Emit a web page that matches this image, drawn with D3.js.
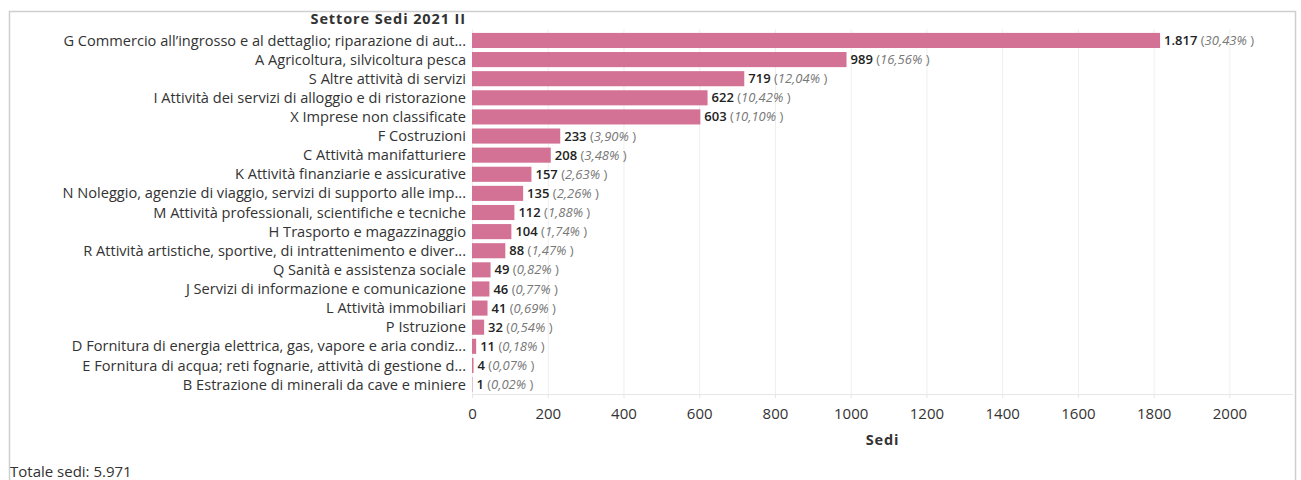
<!DOCTYPE html>
<html>
<head>
<meta charset="utf-8">
<script src="https://cdn.jsdelivr.net/npm/d3@7"></script>
<style>
    body { margin: 0; background: #fff; }
    text { font-family: "Open Sans", Lato, sans-serif; fill: #333; }
    .grid line { stroke: #efefef; }
    .grid path { stroke: none; }
</style>
</head>
<body>
<div id="chart"></div>
<script>
// categories (already sorted as in the picture)
const settori = [
    "G Commercio all’ingrosso e al dettaglio; riparazione di aut...",
    "A Agricoltura, silvicoltura pesca",
    "S Altre attività di servizi",
    "I Attività dei servizi di alloggio e di ristorazione",
    "X Imprese non classificate",
    "F Costruzioni",
    "C Attività manifatturiere",
    "K Attività finanziarie e assicurative",
    "N Noleggio, agenzie di viaggio, servizi di supporto alle imp...",
    "M Attività professionali, scientifiche e tecniche",
    "H Trasporto e magazzinaggio",
    "R Attività artistiche, sportive, di intrattenimento e diver...",
    "Q Sanità e assistenza sociale",
    "J Servizi di informazione e comunicazione",
    "L Attività immobiliari",
    "P Istruzione",
    "D Fornitura di energia elettrica, gas, vapore e aria condiz...",
    "E Fornitura di acqua; reti fognarie, attività di gestione d...",
    "B Estrazione di minerali da cave e miniere"
];
const sedi = [1817, 989, 719, 622, 603, 233, 208, 157, 135, 112, 104, 88, 49, 46, 41, 32, 11, 4, 1];
const percentuali = ["30,43%", "16,56%", "12,04%", "10,42%", "10,10%", "3,90%", "3,48%", "2,63%", "2,26%",
    "1,88%", "1,74%", "1,47%", "0,82%", "0,77%", "0,69%", "0,54%", "0,18%", "0,07%", "0,02%"];
const xTicks = [0, 200, 400, 600, 800, 1000, 1200, 1400, 1600, 1800, 2000];
const totale = "5.971";

const W = 1301, H = 480;
var margin = { top: 31, right: 8, bottom: 86, left: 472 };
var width = W - margin.left - margin.right,
    height = H - margin.top - margin.bottom;

const it = d3.formatLocale({ decimal: ",", thousands: ".", grouping: [3], currency: ["€", ""] });
const fmt = it.format(",d");

var root = d3.select("#chart").append("svg")
    .attr("width", W)
    .attr("height", H);

// outer frame
root.append("rect")
    .attr("x", 9.5).attr("y", 11.5)
    .attr("width", 1286).attr("height", 500)
    .attr("fill", "none")
    .attr("stroke", "#cfcfcf")
    .attr("stroke-width", 1.5);

var svg = root.append("g")
    .attr("transform", "translate(" + margin.left + "," + margin.top + ")");

var x = d3.scaleLinear()
    .domain([0, 2168])
    .range([0, width]);

var y = d3.scaleBand()
    .domain(settori)
    .range([0, height])
    .paddingInner(0.21)
    .paddingOuter(0.1);

// gridlines
svg.append("g")
    .attr("class", "grid")
    .attr("transform", "translate(0," + height + ")")
    .call(d3.axisBottom(x).tickValues(xTicks).tickSize(-height - 2).tickFormat(""));

// axis line
svg.append("line")
    .attr("x1", 0).attr("x2", width)
    .attr("y1", height + 0.5).attr("y2", height + 0.5)
    .attr("stroke", "#e6e6e6");

// x axis labels
var xAxis = svg.append("g")
    .attr("transform", "translate(0," + height + ")")
    .call(d3.axisBottom(x).tickValues(xTicks).tickSize(4).tickPadding(10).tickFormat(d3.format("d")));
xAxis.select(".domain").remove();
xAxis.selectAll("line").attr("stroke", "#e6e6e6");
xAxis.selectAll("text")
    .style("font-family", "'Open Sans', sans-serif")
    .style("font-size", "15px")
    .attr("fill", "#333");

// axis title
svg.append("text")
    .attr("x", width / 2)
    .attr("y", height + 51)
    .attr("text-anchor", "middle")
    .style("font-size", "14.5px")
    .style("font-weight", "bold")
    .style("letter-spacing", "0.8px")
    .text("Sedi");

// header for categories
svg.append("text")
    .attr("x", -6)
    .attr("y", -7)
    .attr("text-anchor", "end")
    .style("font-size", "14.5px")
    .style("font-weight", "bold")
    .style("letter-spacing", "0.9px")
    .text("Settore Sedi 2021 II");

// category labels
svg.append("g")
    .selectAll("text")
    .data(settori)
    .enter()
    .append("text")
    .attr("x", -6)
    .attr("y", d => y(d) + y.bandwidth() / 2)
    .attr("dy", "0.35em")
    .attr("text-anchor", "end")
    .style("font-size", "14.6px")
    .text(d => d);

// bars
svg.append("g")
    .selectAll("rect")
    .data(sedi)
    .enter()
    .append("rect")
    .attr("x", x(0))
    .attr("y", (d, i) => y(settori[i]))
    .attr("width", d => x(d) - x(0))
    .attr("height", y.bandwidth())
    .attr("fill", "#d37295");

// value labels
var lab = svg.append("g")
    .selectAll("text")
    .data(sedi)
    .enter()
    .append("text")
    .attr("x", d => x(d) + 4)
    .attr("y", (d, i) => y(settori[i]) + y.bandwidth() / 2)
    .attr("dy", "0.35em")
    .style("font-size", "13px");
lab.append("tspan")
    .attr("fill", "#222")
    .style("font-weight", "600")
    .text(d => fmt(d));
lab.append("tspan")
    .attr("fill", "#777")
    .text(" (");
lab.append("tspan")
    .attr("fill", "#777")
    .style("font-style", "italic")
    .text((d, i) => percentuali[i]);
lab.append("tspan")
    .attr("fill", "#777")
    .text(" )");

// footer
root.append("text")
    .attr("x", 10)
    .attr("y", 477)
    .style("font-size", "15px")
    .text("Totale sedi: " + totale);
</script>
</body>
</html>
